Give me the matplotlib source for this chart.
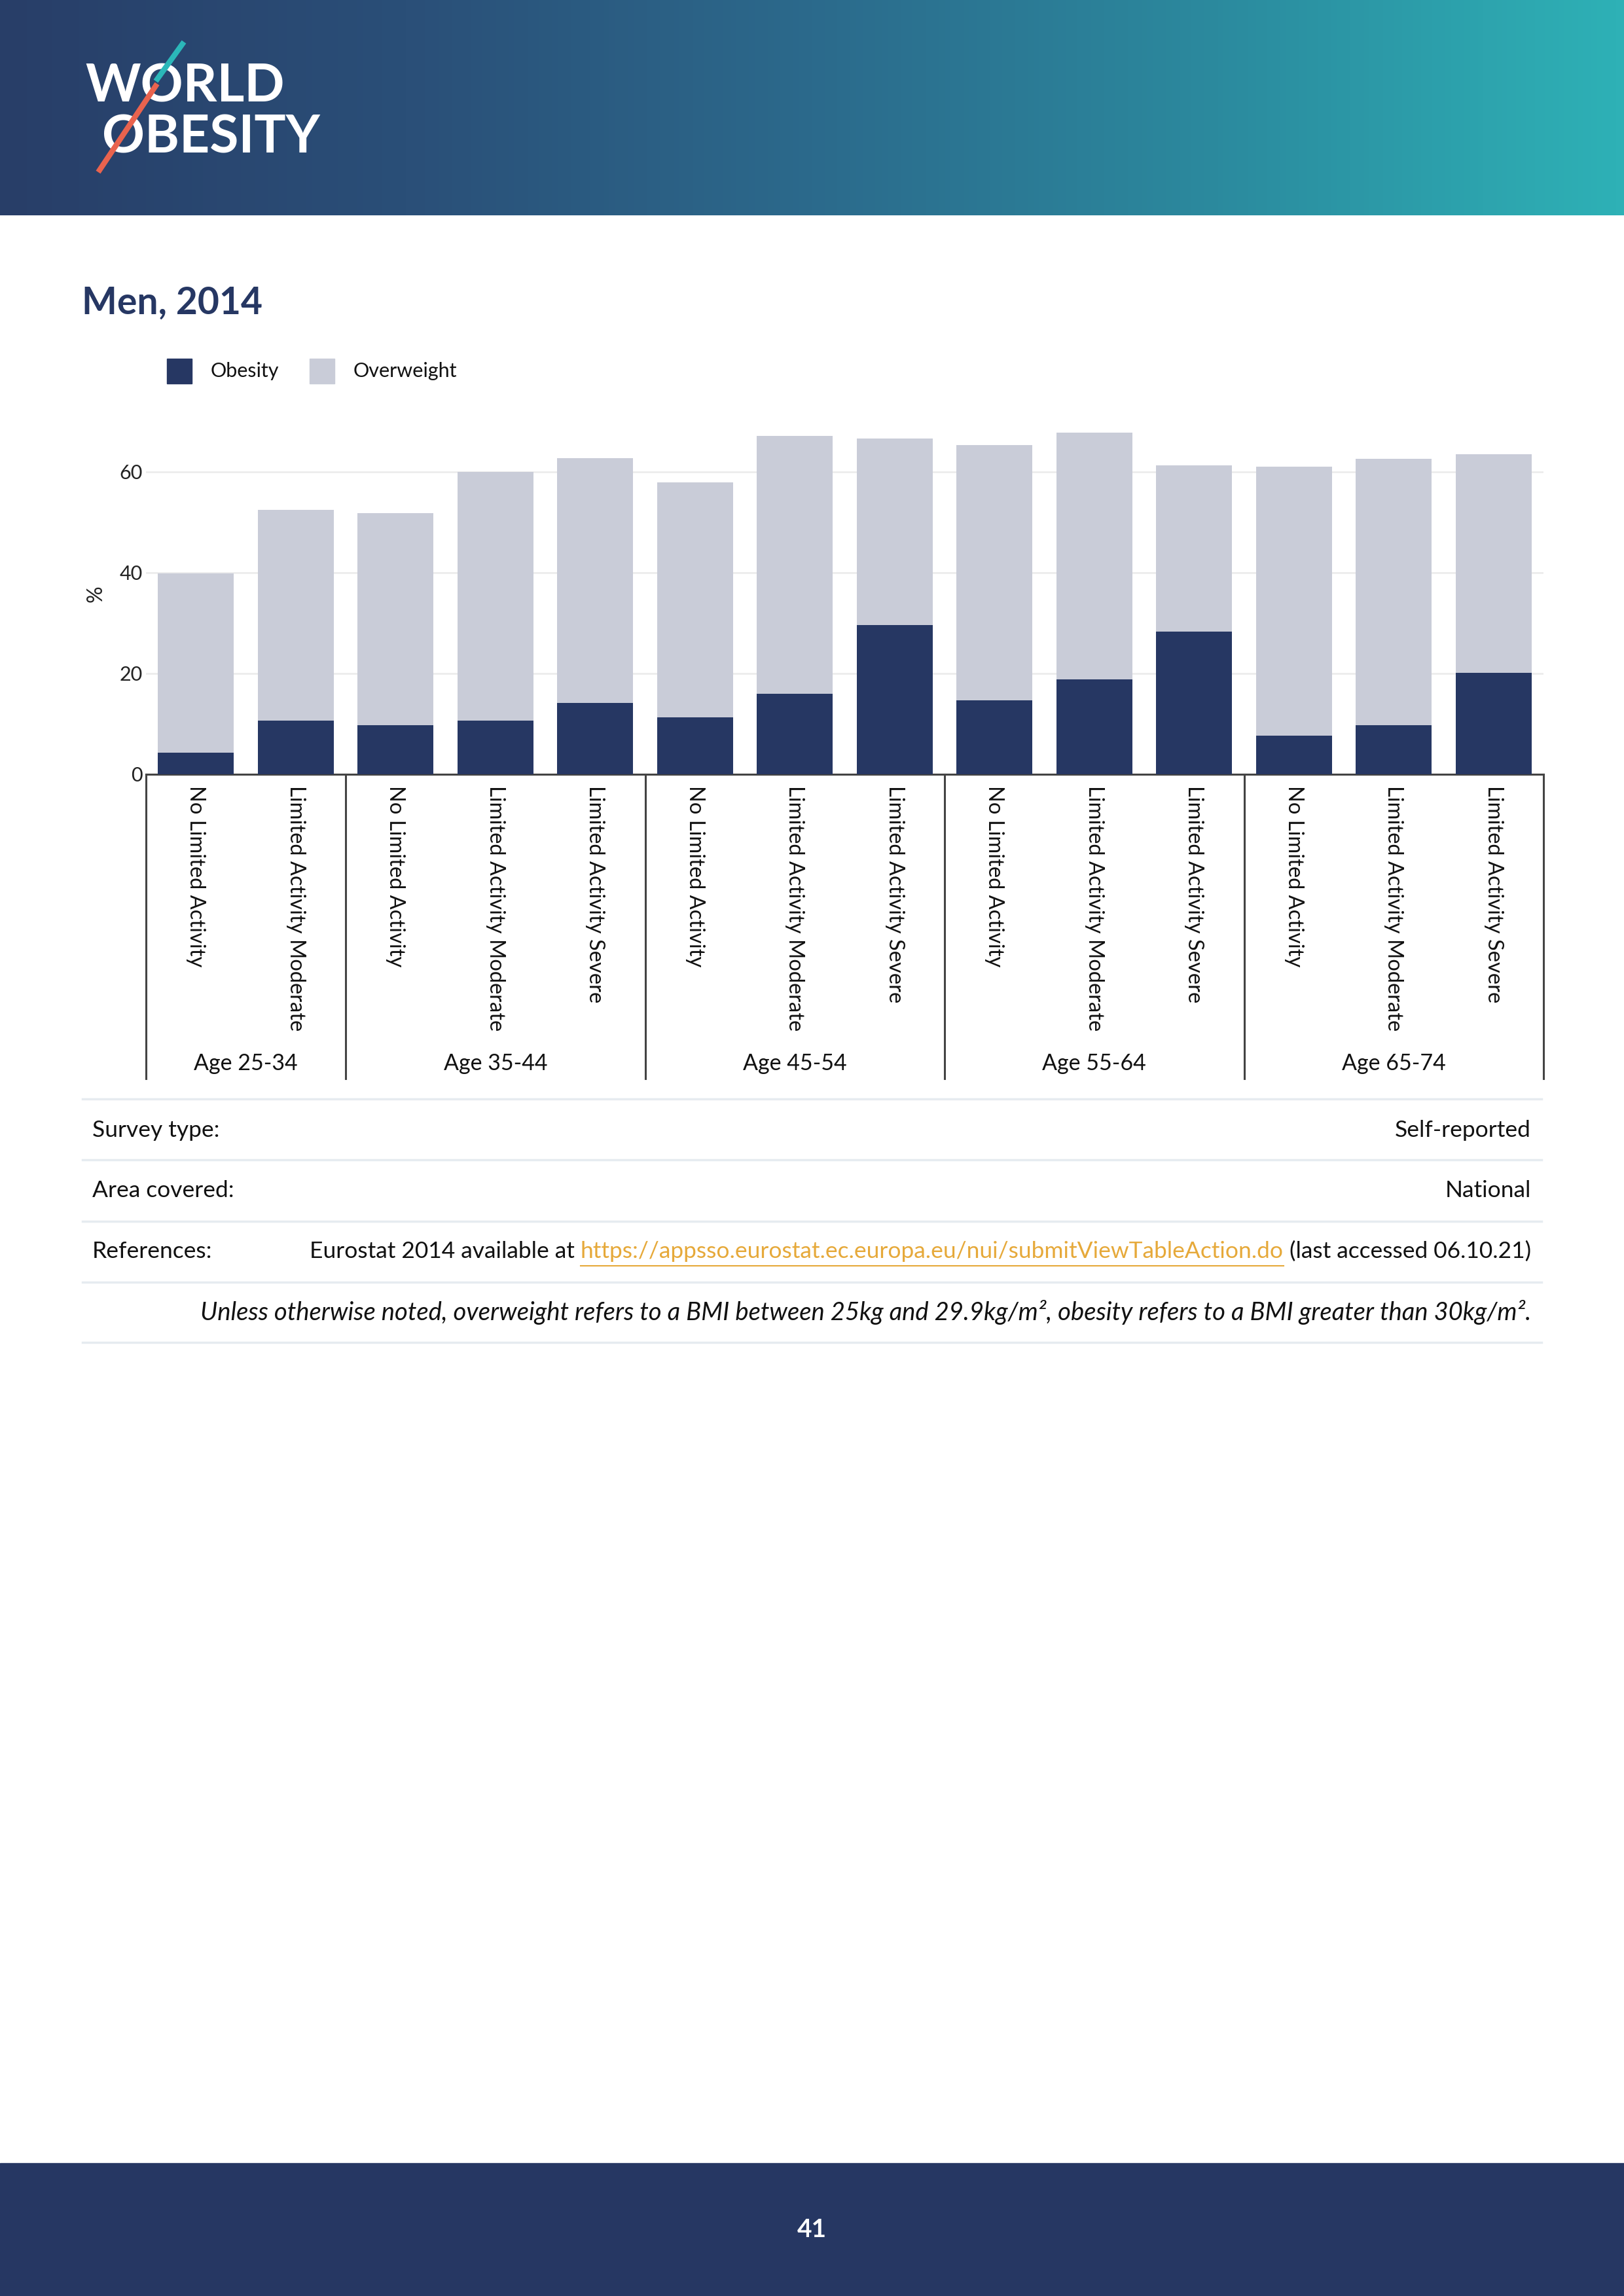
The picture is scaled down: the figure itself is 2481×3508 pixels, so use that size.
import numpy as np
import matplotlib
matplotlib.use('Agg')
import matplotlib.pyplot as plt
from matplotlib.colors import LinearSegmentedColormap
from matplotlib.patches import Rectangle
from matplotlib import transforms

W, H = 2481, 3508

# data
categories = ['No Limited Activity', 'Limited Activity Moderate',
              'No Limited Activity', 'Limited Activity Moderate', 'Limited Activity Severe',
              'No Limited Activity', 'Limited Activity Moderate', 'Limited Activity Severe',
              'No Limited Activity', 'Limited Activity Moderate', 'Limited Activity Severe',
              'No Limited Activity', 'Limited Activity Moderate', 'Limited Activity Severe']
groups = ['Age 25-34', 'Age 35-44', 'Age 45-54', 'Age 55-64', 'Age 65-74']
group_sizes = [2, 3, 3, 3, 3]
obesity = [4.3, 10.7, 9.7, 10.7, 14.2, 11.3, 15.9, 29.6, 14.6, 18.8, 28.3, 7.7, 9.7, 20.1]
overweight = [35.5, 41.7, 42.1, 49.3, 48.5, 46.6, 51.2, 37.0, 50.7, 48.9, 33.0, 53.3, 52.9, 43.3]
series_names = ['Obesity', 'Overweight']
yticks = [0, 20, 40, 60]

NAVY = '#263763'
LIGHT = '#c9ccd8'
GOLD = '#e6a93a'

plt.rcParams['font.family'] = ['Lato', 'DejaVu Sans']

fig = plt.figure(figsize=(W / 100, H / 100), dpi=100)

# page axes in pixel coords (y down)
page = fig.add_axes([0, 0, 1, 1])
grad = np.linspace(0, 1, 600).reshape(1, -1)
cmap = LinearSegmentedColormap.from_list('hdr', ['#283e68', '#2a4f78', '#2c6a8c', '#2b8a9e', '#2eb1b6'])
page.imshow(grad, cmap=cmap, extent=(0, W, 329, 0), aspect='auto', zorder=0)
page.add_patch(Rectangle((0, 3305), W, H - 3305, color=NAVY, zorder=0))
page.set_xlim(0, W)
page.set_ylim(H, 0)
page.axis('off')

# logo
page.text(130, 156, 'WORLD', color='white', fontsize=58, fontweight='bold', va='baseline', ha='left')
page.text(156, 233, 'OBESITY', color='white', fontsize=58, fontweight='bold', va='baseline', ha='left')
page.plot([281, 238], [64, 124], color='#2bb7b9', lw=6, solid_capstyle='butt', zorder=5)
page.plot([240, 150], [128, 263], color='#e9634e', lw=6, solid_capstyle='butt', zorder=5)

# title
page.text(125, 463, 'Men, 2014', fontsize=41, fontweight='bold', color=NAVY, va='center', ha='left')

# legend
for (sx, tx), name, col in zip([(255, 322), (473, 540)], series_names, [NAVY, LIGHT]):
    page.add_patch(Rectangle((sx, 548), 38, 38, color=col))
    page.text(tx, 567, name, fontsize=22, color='#111111', va='center', ha='left')

# y label
page.text(147, 907, '%', rotation=90, fontsize=23, color='#222222', va='center', ha='center')

# chart
ax_top, ax_bot, ax_left, ax_right = 632, 1183, 223, 2358
ax_h = ax_bot - ax_top
ax = fig.add_axes([ax_left / W, 1 - ax_bot / H, (ax_right - ax_left) / W, ax_h / H])
x = np.arange(len(categories))
ax.bar(x, obesity, width=0.76, color=NAVY, zorder=3, label=series_names[0])
ax.bar(x, overweight, bottom=obesity, width=0.76, color=LIGHT, zorder=3, label=series_names[1])
ax.set_xlim(-0.5, len(categories) - 0.5)
ax.set_ylim(0, 71.5)
ax.set_yticks(yticks)
ax.yaxis.grid(True, color='#ececec', lw=2)
ax.set_axisbelow(True)
for s in ['top', 'right', 'left']:
    ax.spines[s].set_visible(False)
ax.spines['bottom'].set_color('#444444')
ax.spines['bottom'].set_linewidth(2.2)
ax.tick_params(axis='y', length=0, pad=4, labelsize=22, labelcolor='#222222')
ax.set_xticks(x)
ax.set_xticklabels(categories, rotation=-90, va='top', ha='center', fontsize=23.5, color='#111111')
ax.tick_params(axis='x', length=0, pad=12)

# group dividers and labels
trans = transforms.blended_transform_factory(ax.transData, ax.transAxes)
bounds = np.concatenate([[0], np.cumsum(group_sizes)]) - 0.5
div_bot = -(1648 - ax_bot) / ax_h
for b in bounds:
    ax.plot([b, b], [0, div_bot], transform=trans, color='#444444', lw=2.2, clip_on=False)
lab_y = -(1625 - ax_bot) / ax_h
for i, g in enumerate(groups):
    mid = (bounds[i] + bounds[i + 1]) / 2
    ax.text(mid, lab_y, g, transform=trans, ha='center', va='center', fontsize=24.5, color='#111111')

# info table
for yl in [1679, 1772, 1866, 1959, 2051]:
    page.plot([126, 2355], [yl, yl], color='#e6ebf0', lw=2.5)

FS = 25.5
page.text(141, 1727, 'Survey type:', fontsize=FS, va='center', ha='left', color='#111111')
page.text(2339, 1727, 'Self-reported', fontsize=FS, va='center', ha='right', color='#111111')
page.text(141, 1819, 'Area covered:', fontsize=FS, va='center', ha='left', color='#111111')
page.text(2339, 1819, 'National', fontsize=FS, va='center', ha='right', color='#111111')
page.text(141, 1912, 'References:', fontsize=FS, va='center', ha='left', color='#111111')

renderer = fig.canvas.get_renderer()
sp = FS * 100 / 72 * 0.26
pieces = [('Eurostat 2014 available at', '#111111'),
          ('https://appsso.eurostat.ec.europa.eu/nui/submitViewTableAction.do', GOLD),
          ('(last accessed 06.10.21)', '#111111')]
xr = 2339
for txt, col in reversed(pieces):
    t = page.text(xr, 1912, txt, fontsize=FS, va='center', ha='right', color=col)
    wbb = t.get_window_extent(renderer).width
    if col == GOLD:
        page.plot([xr - wbb, xr], [1934, 1934], color=GOLD, lw=1.5)
    xr = xr - wbb - sp

page.text(2339, 2005, 'Unless otherwise noted, overweight refers to a BMI between 25kg and 29.9kg/m², '
          'obesity refers to a BMI greater than 30kg/m².',
          fontsize=27.5, style='italic', va='center', ha='right', color='#111111')

# page number
page.text(1240, 3407, '41', fontsize=28, fontweight='bold', color='white', ha='center', va='center')

fig.savefig('out.png', dpi=100)
